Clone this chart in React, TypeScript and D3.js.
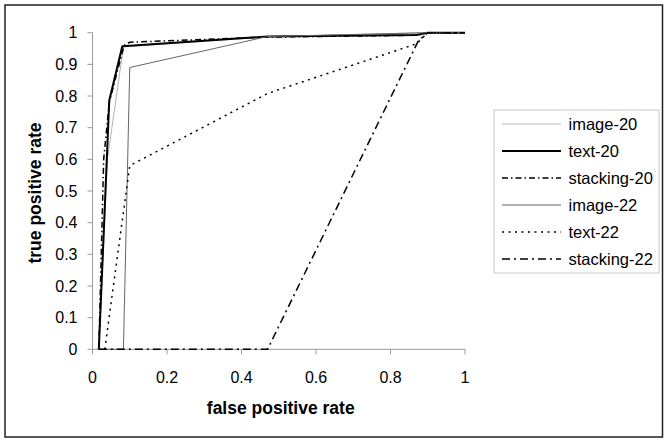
import React from "react";
import * as d3 from "d3";

// ROC points: [false positive rate, true positive rate]
const image20: [number, number][] = [[0.017, 0], [0.04, 0.6], [0.083, 0.955], [0.47, 0.987], [0.9, 1], [1, 1]];
const text20: [number, number][] = [[0.017, 0], [0.045, 0.786], [0.08, 0.957], [0.47, 0.988], [0.87, 0.993], [0.9, 1], [1, 1]];
const stacking20: [number, number][] = [[0.017, 0], [0.03, 0.6], [0.045, 0.78], [0.085, 0.96], [0.1, 0.97], [0.47, 0.986], [0.87, 0.992], [0.9, 1], [1, 1]];
const image22: [number, number][] = [[0.017, 0], [0.083, 0], [0.1, 0.89], [0.47, 0.988], [0.9, 1], [1, 1]];
const text22: [number, number][] = [[0.033, 0], [0.1, 0.58], [0.47, 0.808], [0.87, 0.965], [0.9, 1], [1, 1]];
const stacking22: [number, number][] = [[0.017, 0], [0.47, 0], [0.875, 0.975], [0.9, 1], [1, 1]];

const xTicks = [0, 0.2, 0.4, 0.6, 0.8, 1];
const yTicks = [0, 0.1, 0.2, 0.3, 0.4, 0.5, 0.6, 0.7, 0.8, 0.9, 1];

const series = [
  { name: "image-20", data: image20, color: "#b4b4b4", width: 1, dash: "none" },
  { name: "text-20", data: text20, color: "#000", width: 2, dash: "none" },
  { name: "stacking-20", data: stacking20, color: "#000", width: 1.5, dash: "6,3,1.5,3" },
  { name: "image-22", data: image22, color: "#666", width: 1, dash: "none" },
  { name: "text-22", data: text22, color: "#000", width: 1.5, dash: "2,4.5" },
  { name: "stacking-22", data: stacking22, color: "#000", width: 1.5, dash: "8,4,2,4" },
];

const font = "Arial, 'Liberation Sans', sans-serif";

export default function App() {
  const width = 669,
    height = 443;
  const x = d3.scaleLinear().domain([0, 1]).range([92.5, 465]);
  const y = d3.scaleLinear().domain([0, 1]).range([349.3, 32.7]);
  const line = d3
    .line<[number, number]>()
    .x((d) => x(d[0]))
    .y((d) => y(d[1]));

  const legend = { left: 494, top: 110, w: 165, h: 163, row: 27 };

  return (
    <svg
      width={width}
      height={height}
      style={{ position: "absolute", left: 0, top: 0, background: "#fff" }}
      fontFamily={font}
    >
      <rect x={5} y={5} width={657.5} height={432} fill="#fff" stroke="#222" strokeWidth={1.5} />

      {/* axes */}
      <g stroke="#9a9a9a" strokeWidth={1} fill="none">
        <line x1={x(0)} x2={x(0)} y1={y(0)} y2={y(1)} />
        <line x1={x(0)} x2={x(1)} y1={y(0)} y2={y(0)} />
        {yTicks.map((t) => (
          <line key={"yt" + t} x1={x(0) - 5} x2={x(0)} y1={y(t)} y2={y(t)} />
        ))}
        {xTicks.map((t) => (
          <line key={"xt" + t} x1={x(t)} x2={x(t)} y1={y(0)} y2={y(0) + 5} />
        ))}
      </g>
      <g fontSize={16} fill="#000">
        {yTicks.map((t) => (
          <text key={"yl" + t} x={x(0) - 15} y={y(t)} dy="0.36em" textAnchor="end">
            {d3.format("~g")(t)}
          </text>
        ))}
        {xTicks.map((t) => (
          <text key={"xl" + t} x={x(t)} y={382.5} textAnchor="middle">
            {d3.format("~g")(t)}
          </text>
        ))}
      </g>
      <text x={(x(0) + x(1)) / 2 + 2} y={414} fontSize={17.5} fontWeight="bold" textAnchor="middle">
        false positive rate
      </text>
      <text
        transform={`translate(40.5, ${(y(0) + y(1)) / 2 + 2}) rotate(-90)`}
        fontSize={17.5}
        fontWeight="bold"
        textAnchor="middle"
      >
        true positive rate
      </text>

      {/* curves */}
      {series.map((s) => (
        <path
          key={s.name}
          d={line(s.data) || ""}
          fill="none"
          stroke={s.color}
          strokeWidth={s.width}
          strokeDasharray={s.dash}
          strokeLinejoin="round"
        />
      ))}

      {/* legend */}
      <rect x={legend.left} y={legend.top} width={legend.w} height={legend.h} fill="#fff" stroke="#c8c8c8" />
      {series.map((s, i) => {
        const cy = legend.top + 14 + i * legend.row;
        return (
          <g key={"lg" + s.name}>
            <line
              x1={502}
              x2={561}
              y1={cy}
              y2={cy}
              stroke={s.color}
              strokeWidth={s.width}
              strokeDasharray={s.dash}
            />
            <text x={568.5} y={cy} dy="0.36em" fontSize={16.5}>
              {s.name}
            </text>
          </g>
        );
      })}
    </svg>
  );
}
